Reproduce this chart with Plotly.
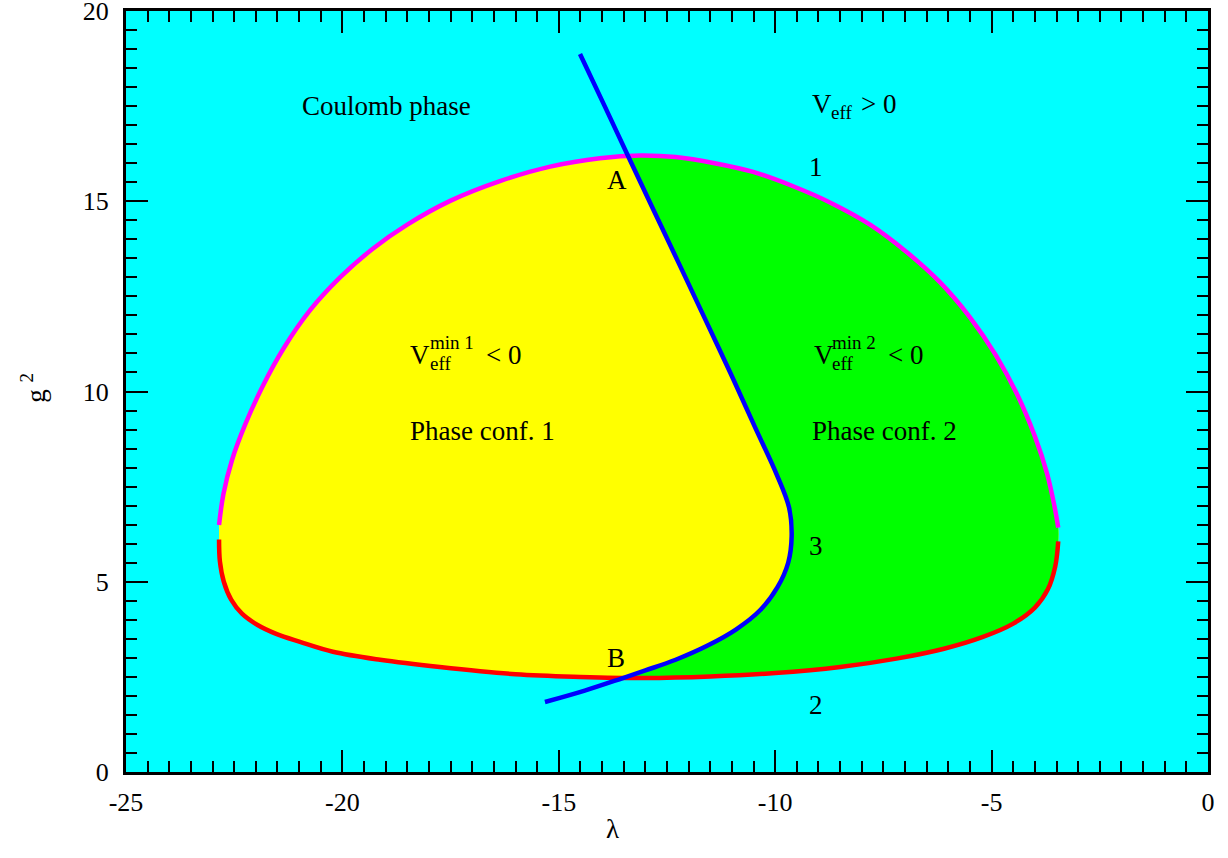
import plotly.graph_objects as go

# boundary 1 (upper, magenta), left to right
CURVE1_X = [-22.85, -22.75, -22.55, -22.25, -21.85, -21.35, -20.75, -20.06, -19.29, -18.51,
            -17.51, -16.36, -15.20, -14.05, -13.12, -12.30, -11.40, -10.51, -9.60, -8.70,
            -7.80, -7.00, -6.20, -5.50, -4.90, -4.40, -4.00, -3.72, -3.55, -3.46]
CURVE1_Y = [6.49, 7.30, 8.20, 9.12, 10.12, 11.15, 12.13, 12.99, 13.76, 14.38,
            15.01, 15.53, 15.91, 16.13, 16.20, 16.16, 16.00, 15.77, 15.40, 14.95,
            14.38, 13.70, 12.88, 11.95, 10.95, 9.90, 8.82, 7.85, 7.00, 6.42]

# boundary 2 (lower, red), left to right
CURVE2_X = [-22.85, -22.83, -22.74, -22.57, -22.32, -21.97, -21.53, -20.98, -20.22, -19.13,
            -17.75, -16.00, -14.50, -13.00, -11.50, -10.00, -8.50, -7.20, -6.10, -5.20,
            -4.50, -4.00, -3.70, -3.53, -3.46]
CURVE2_Y = [6.11, 5.53, 5.00, 4.53, 4.16, 3.87, 3.63, 3.42, 3.16, 2.95,
            2.76, 2.57, 2.50, 2.47, 2.51, 2.60, 2.76, 2.98, 3.24, 3.55,
            3.90, 4.32, 4.80, 5.40, 6.06]

# boundary 3 (blue), from the top end down to the lower end
CURVE3_X = [-14.51, -13.94, -13.40, -12.82, -12.24, -11.66, -11.04, -10.47, -9.97, -9.68,
            -9.62, -9.70, -9.95, -10.35, -10.90, -11.55, -12.30, -13.00, -13.52, -14.40,
            -15.32]
CURVE3_Y = [18.87, 17.50, 16.19, 14.79, 13.40, 12.00, 10.50, 9.07, 7.83, 6.95,
            6.20, 5.50, 4.85, 4.25, 3.75, 3.33, 2.95, 2.67, 2.47, 2.14,
            1.84]
I_A, I_B = 2, 18  # points A and B on curve 3

X_TICKS = [-25, -20, -15, -10, -5, 0]
X_TICKTEXT = ["-25", "-20", "-15", "-10", "-5", "0"]
Y_TICKS = [0, 5, 10, 15, 20]
Y_TICKTEXT = ["0", "5", "10", "15", "20"]

FONT = "Liberation Serif, Times New Roman, serif"
CYAN, YELLOW, GREEN = "#00FFFF", "#FFFF00", "#00FF00"

fig = go.Figure()

# whole inner region (yellow)
fig.add_trace(go.Scatter(
    x=CURVE1_X + CURVE2_X[::-1], y=CURVE1_Y + CURVE2_Y[::-1],
    fill="toself", fillcolor=YELLOW, mode="lines", line=dict(width=0, shape="spline"),
    hoverinfo="skip", showlegend=False,
))

# right part (green): A -> B along curve 3, then curve 2 to the right end, back along curve 1
xa, xb = CURVE3_X[I_A], CURVE3_X[I_B]
gx = CURVE3_X[I_A:I_B + 1]
gy = CURVE3_Y[I_A:I_B + 1]
gx += [x for x in CURVE2_X if x > xb]
gy += [y for x, y in zip(CURVE2_X, CURVE2_Y) if x > xb]
gx += [x for x in CURVE1_X[::-1] if x > xa]
gy += [y for x, y in zip(CURVE1_X[::-1], CURVE1_Y[::-1]) if x > xa]
fig.add_trace(go.Scatter(
    x=gx, y=gy, fill="toself", fillcolor=GREEN, mode="lines",
    line=dict(width=0, shape="spline"), hoverinfo="skip", showlegend=False,
))

for xs, ys, col in [(CURVE1_X, CURVE1_Y, "#FF00FF"), (CURVE2_X, CURVE2_Y, "#FF0000"),
                    (CURVE3_X, CURVE3_Y, "#0000FF")]:
    fig.add_trace(go.Scatter(x=xs, y=ys, mode="lines",
                             line=dict(color=col, width=4.5, shape="spline"),
                             hoverinfo="skip", showlegend=False))


def label(x, y, text, size=27, anchor="left"):
    fig.add_annotation(x=x, y=y, text=text, showarrow=False, xanchor=anchor, yanchor="middle",
                       font=dict(family=FONT, size=size, color="black"))


label(-20.98, 17.5, "Coulomb phase")
# V_eff > 0
label(-9.20, 17.55, "V")
label(-8.76, 17.33, "eff", size=19)
label(-8.06, 17.55, "&gt; 0")
label(-13.66, 15.55, "A", anchor="center")
label(-9.06, 15.9, "1", anchor="center")
# V_eff^min1 < 0
label(-18.48, 10.97, "V")
label(-18.02, 10.74, "eff", size=19)
label(-18.02, 11.30, "min 1", size=19)
label(-16.72, 10.97, "&lt; 0")
label(-18.48, 8.95, "Phase conf. 1")
# V_eff^min2 < 0
label(-9.15, 10.97, "V")
label(-8.73, 10.74, "eff", size=19)
label(-8.73, 11.30, "min 2", size=19)
label(-7.45, 10.97, "&lt; 0")
label(-9.20, 8.95, "Phase conf. 2")
label(-9.06, 5.95, "3", anchor="center")
label(-13.68, 3.0, "B", anchor="center")
label(-9.06, 1.76, "2", anchor="center")

# axis titles
fig.add_annotation(x=-13.77, y=0, yref="paper", yshift=-74, text="λ", showarrow=False,
                   font=dict(family=FONT, size=27, color="black"))
fig.add_annotation(x=-0.086, xref="paper", y=10.1, text="g <sup>2</sup>", showarrow=False,
                   textangle=-90, xanchor="center", yanchor="middle",
                   font=dict(family=FONT, size=27, color="black"))

axis_common = dict(
    showgrid=False, zeroline=False, showline=True, linecolor="black", linewidth=3,
    mirror="ticks", ticks="inside", ticklen=22, tickwidth=2, tickcolor="black",
    tickfont=dict(family=FONT, size=26, color="black"), automargin=False,
    ticklabeloverflow="allow",
    minor=dict(ticks="inside", ticklen=11, tickwidth=2, tickcolor="black", tick0=0, dtick=0.5),
)
fig.update_xaxes(range=[-25, 0], tickmode="array", tickvals=X_TICKS, ticktext=X_TICKTEXT,
                 ticklabelstandoff=5, **axis_common)
fig.update_yaxes(range=[0, 20], tickmode="array", tickvals=Y_TICKS, ticktext=Y_TICKTEXT,
                 ticklabelstandoff=9, **axis_common)

fig.update_layout(
    width=1228, height=858,
    margin=dict(l=126, r=20, t=11, b=86),
    plot_bgcolor=CYAN, paper_bgcolor="white",
    font=dict(family=FONT, size=26, color="black"),
)

# drop the default page margin so the figure sits at the window's corner
fig.write_html("out.html", config={"displayModeBar": False},
               post_script="document.body.style.margin = '0px';")
